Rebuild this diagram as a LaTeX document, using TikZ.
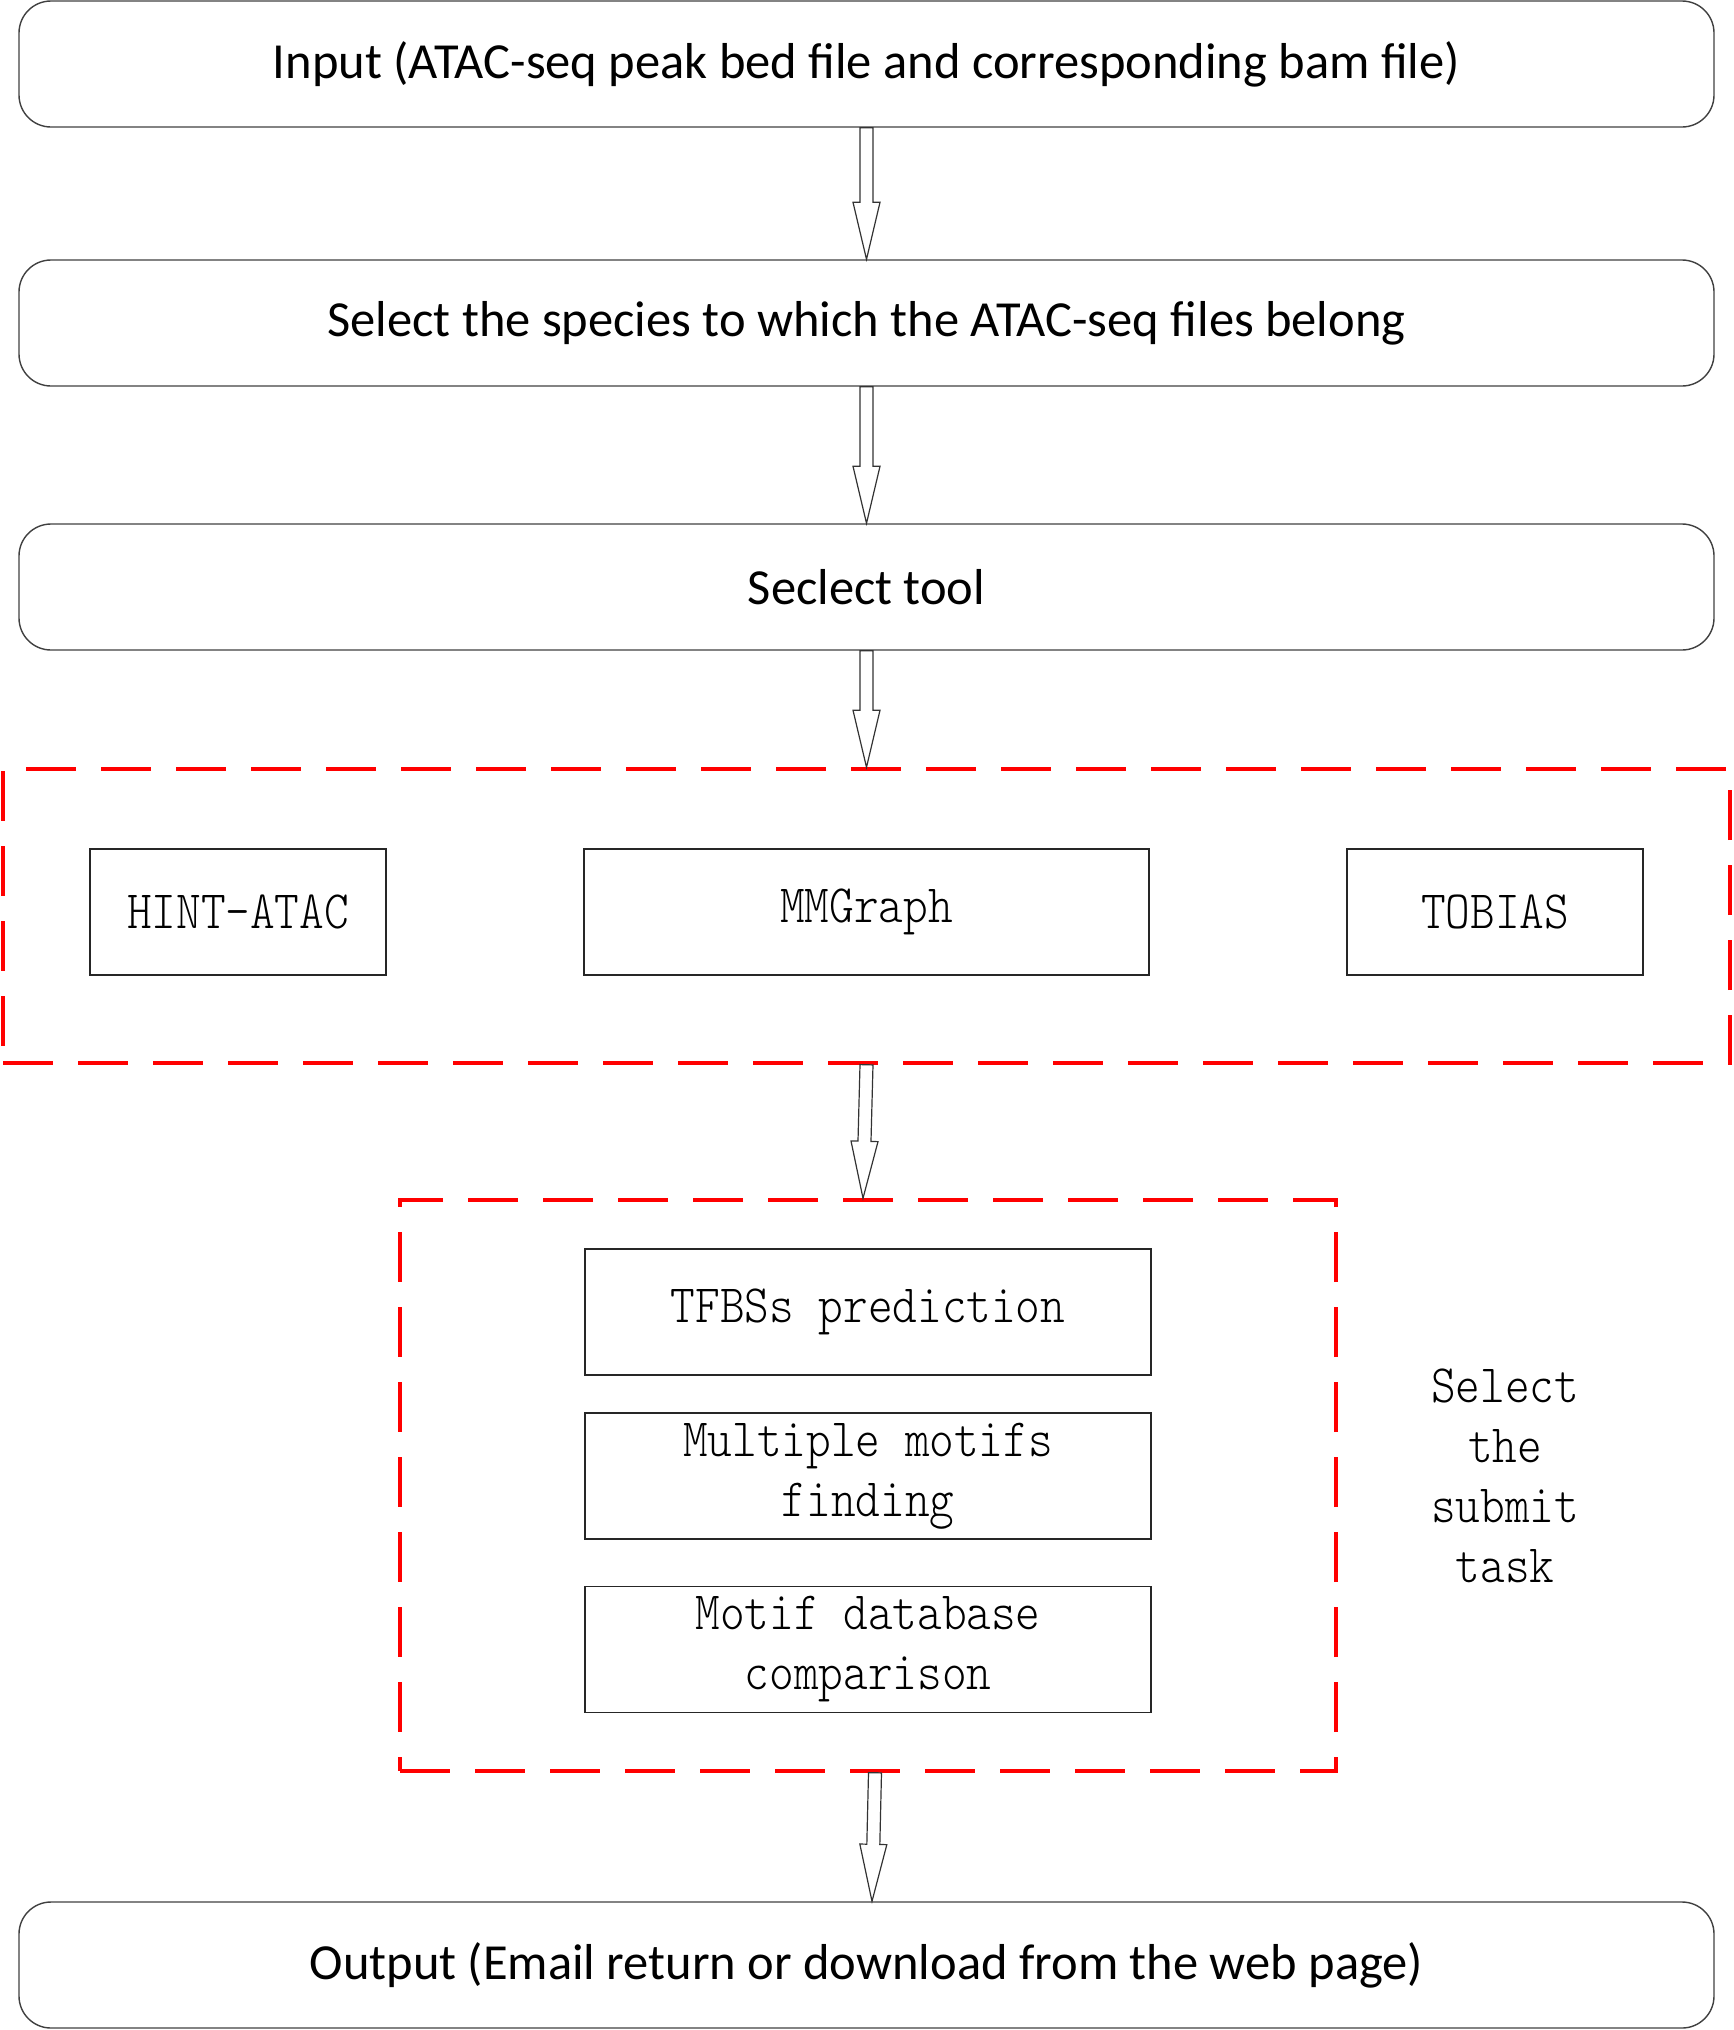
\documentclass[tikz,border=0pt]{standalone}
\usepackage{fontspec}
\setmainfont{Carlito}
\newfontfamily\simfont[FakeStretch=0.87]{lmmonolt10-regular.otf}
\usetikzlibrary{calc}
\tikzset{
  topbox/.style={draw=black!75, line width=1.4pt, rounded corners=32pt, minimum width=1695pt, minimum height=126pt, inner sep=0pt, font=\fontsize{50.5}{60}\selectfont},
  toolbox/.style={draw=black!85, line width=1.4pt, minimum width=296pt, minimum height=126pt, inner sep=0pt, align=center, font=\simfont\fontsize{54}{60}\selectfont},
  redbox/.style={draw=red, line width=3.5pt, dash pattern=on 50pt off 25pt, inner sep=0pt},
  blockarrow/.style={draw=black!80, line width=1.2pt, fill=white, line join=miter},
  sidelabel/.style={align=center, font=\simfont\fontsize{54}{60}\selectfont}
}
\newcommand{\blockarr}[2]{%
  \coordinate (ba-s) at (#1);
  \coordinate (ba-t) at (#2);
  \coordinate (ba-h) at ($(ba-t)!57pt!(ba-s)$);
  \draw[blockarrow] ($(ba-s)!6.5pt!90:(ba-t)$) -- ($(ba-h)!6.5pt!90:(ba-t)$) -- ($(ba-h)!13.5pt!90:(ba-t)$) -- (ba-t) -- ($(ba-h)!13.5pt!-90:(ba-t)$) -- ($(ba-h)!6.5pt!-90:(ba-t)$) -- ($(ba-s)!6.5pt!-90:(ba-t)$) -- cycle;
}
\begin{document}
\begin{tikzpicture}[x=1pt,y=-1pt]
\useasboundingbox (0,0) rectangle (1733,2030);
\node[topbox] (in) at (866.5,64) {Input (ATAC-seq peak bed file and corresponding bam file)};
\node[topbox] (sp) at (866.5,323) {Select the species to which the ATAC-seq files belong};
\node[topbox] (tool) at (866.5,587) {Seclect tool};
\node[redbox, minimum width=1727pt, minimum height=294pt] (rb1) at (866.5,916) {};
\node[toolbox] (hint) at (238,912) {HINT-ATAC};
\node[toolbox, minimum width=565pt] (mm) at (866.5,912) {MMGraph};
\node[toolbox] (tob) at (1495,912) {TOBIAS};
\node[redbox, minimum width=936pt, minimum height=571pt] (rb2) at (868,1485.5) {};
\node[toolbox, minimum width=566pt] (tf) at (868,1312) {TFBSs prediction};
\node[toolbox, minimum width=566pt] (mul) at (868,1476) {Multiple motifs\\finding};
\node[toolbox, minimum width=566pt] (mot) at (868,1649.5) {Motif database\\comparison};
\node[sidelabel] (sel) at (1505,1476) {Select\\the\\submit\\task};
\node[topbox] (out) at (866.5,1965) {Output (Email return or download from the web page)};
\blockarr{in.south}{sp.north}
\blockarr{sp.south}{tool.north}
\blockarr{tool.south}{rb1.north}
\blockarr{rb1.south}{$(rb2.north)+(-5,0)$}
\blockarr{$(rb2.south)+(7,0)$}{$(out.north)+(5.5,0)$}
\end{tikzpicture}
\end{document}
